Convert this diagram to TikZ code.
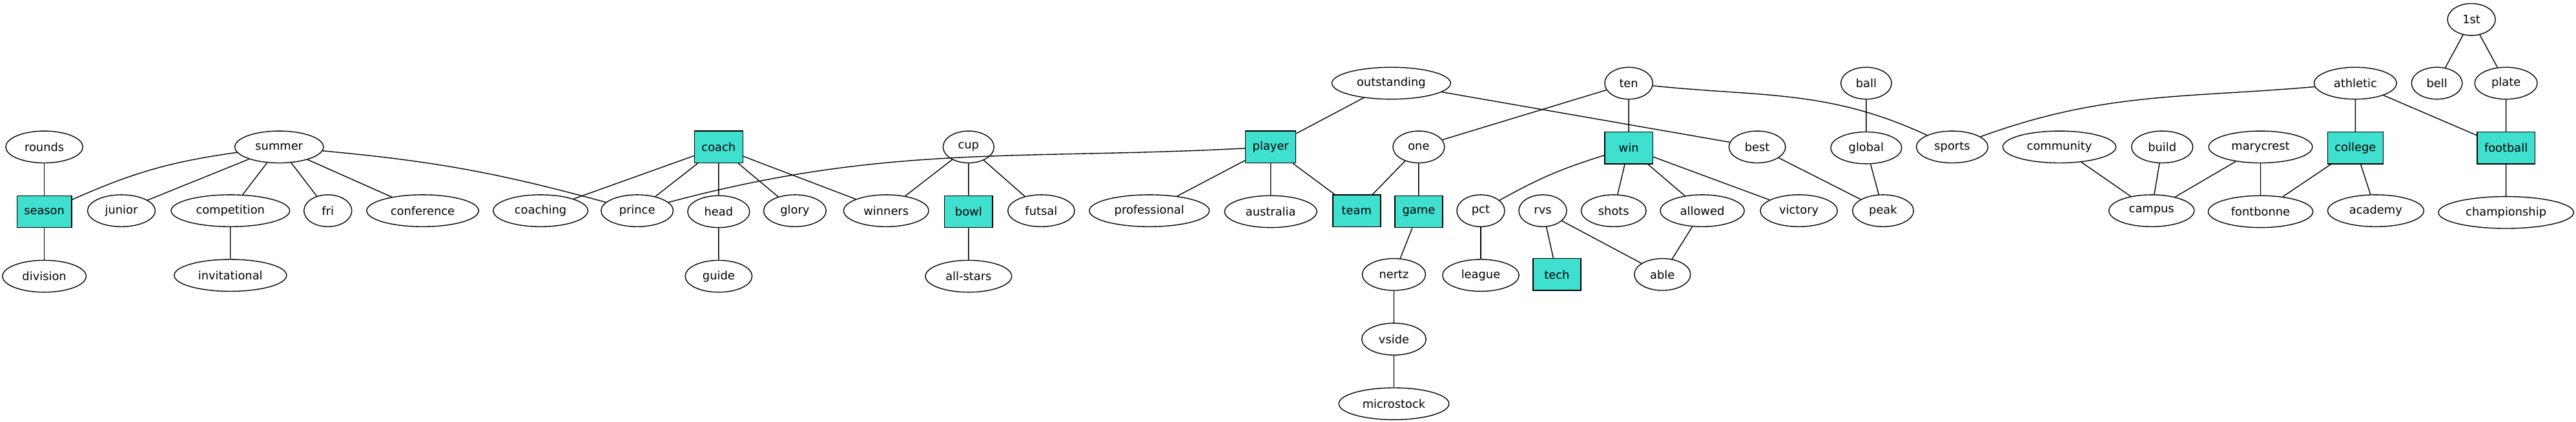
\documentclass[tikz,border=0pt]{standalone}
\usepackage{fontspec}
\setmainfont{DejaVu Sans}
\usepackage{tikz}
\usetikzlibrary{positioning,shapes.geometric}
\definecolor{turq}{HTML}{40E0D0}

\begin{document}
\begin{tikzpicture}[
		x=1pt, y=1pt
		,node distance=36pt
		,line width=1pt
		,every node/.append style={font=\fontsize{13}{15}\selectfont, minimum height=36pt, minimum width=54pt}
		,w/.style={ellipse, draw, inner xsep=8.5pt, inner ysep=2pt}
		,k/.style={rectangle, draw, fill=turq, inner xsep=8pt}
	]
	\useasboundingbox (0,0) rectangle (2907,476);

	% top ranks
	\node [w] (first) at (2789,454) {1st};
	\node [w] (outstanding) at (1570,382) {outstanding};
	\node [w] (ten) at (1838,382) {ten};
	\node [w] (ball) at (2106,382) {ball};
	\node [w] (athletic) at (2658,382) {athletic};
	\node [w] (bell) at (2750,382) {bell};
	\node [w] (plate) at (2828,382) {plate};

	\node [w] (rounds) at (50,310) {rounds};
	\node [w] (summer) at (315,310) {summer};
	\node [k] (coach) at (811,310) {coach};
	\node [w] (cup) at (1093,310) {cup};
	\node [k] (player) at (1434,310) {player};
	\node [w] (one) at (1601,310) {one};
	\node [k, below=of ten] (win) {win};
	\node [w] (best) at (1983,310) {best};
	\node [w, below=of ball] (global) {global};
	\node [w] (sports) at (2203,310) {sports};
	\node [w] (community) at (2324,310) {community};
	\node [w] (build) at (2440,310) {build};
	\node [w] (marycrest) at (2551,310) {marycrest};
	\node [k, below=of athletic] (college) {college};
	\node [k, below=of plate] (football) {football};

	% third rank
	\node [k, below=of rounds] (season) {season};
	\node [w] (junior) at (137,238) {junior};
	\node [w] (competition) at (260,238) {competition};
	\node [w] (fri) at (370,238) {fri};
	\node [w] (conference) at (477,238) {conference};
	\node [w] (coaching) at (610,238) {coaching};
	\node [w] (prince) at (719,238) {prince};
	\node [w, below=of coach] (head) {head};
	\node [w] (glory) at (897,238) {glory};
	\node [w] (winners) at (1000,238) {winners};
	\node [k, below=of cup] (bowl) {bowl};
	\node [w] (futsal) at (1175,238) {futsal};
	\node [w] (professional) at (1297,238) {professional};
	\node [w, below=of player] (australia) {australia};
	\node [k] (team) at (1531,238) {team};
	\node [k, below=of one] (game) {game};
	\node [w] (pct) at (1671,238) {pct};
	\node [w] (rvs) at (1741,238) {rvs};
	\node [w] (shots) at (1821,238) {shots};
	\node [w] (allowed) at (1921,238) {allowed};
	\node [w] (victory) at (2030,238) {victory};
	\node [w] (peak) at (2125,238) {peak};
	\node [w] (campus) at (2428,238) {campus};
	\node [w, below=of marycrest] (fontbonne) {fontbonne};
	\node [w] (academy) at (2681,238) {academy};
	\node [w, below=of football] (championship) {championship};

	% lower ranks
	\node [w, below=of season] (division) {division};
	\node [w, below=of competition] (invitational) {invitational};
	\node [w, below=of head] (guide) {guide};
	\node [w, below=of bowl] (allstars) {all-stars};
	\node [w] (nertz) at (1573,166) {nertz};
	\node [w, below=of pct] (league) {league};
	\node [k] (tech) at (1757,166) {tech};
	\node [w] (able) at (1876,166) {able};
	\node [w, below=of nertz] (vside) {vside};
	\node [w, below=of vside] (microstock) {microstock};

	% edges
	\draw (rounds) -- (season) -- (division);
	\draw (summer) to[bend right=8] (season);
	\draw (summer) -- (junior) (summer) -- (competition) -- (invitational);
	\draw (summer) -- (fri) (summer) -- (conference);
	\draw (summer) to[bend left=5] (prince);
	\draw (coach) -- (coaching) (coach) -- (prince) (coach) -- (head) -- (guide);
	\draw (coach) -- (glory) (coach) -- (winners);
	\draw (cup) -- (winners) (cup) -- (bowl) -- (allstars) (cup) -- (futsal);
	\draw (player) to[out=183,in=15] (prince);
	\draw (outstanding) -- (player) (outstanding) -- (best);
	\draw (player) -- (professional) (player) -- (australia) (player) -- (team);
	\draw (ten) -- (one) (ten) -- (win);
	\draw (ten) to[out=-6,in=155] (sports);
	\draw (one) -- (team) (one) -- (game) -- (nertz) -- (vside) -- (microstock);
	\draw (win) to[bend right=6] (pct);
	\draw (pct) -- (league);
	\draw (win) -- (shots) (win) -- (allowed) -- (able) (win) -- (victory);
	\draw (rvs) -- (tech) (rvs) -- (able);
	\draw (best) -- (peak) (ball) -- (global) -- (peak);
	\draw (athletic) to[out=185,in=20] (sports);
	\draw (athletic) -- (college) (athletic) -- (football);
	\draw (first) -- (bell) (first) -- (plate) -- (football) -- (championship);
	\draw (community) -- (campus) (build) -- (campus) (marycrest) -- (campus);
	\draw (marycrest) -- (fontbonne) (college) -- (fontbonne) (college) -- (academy);
\end{tikzpicture}
\end{document}
